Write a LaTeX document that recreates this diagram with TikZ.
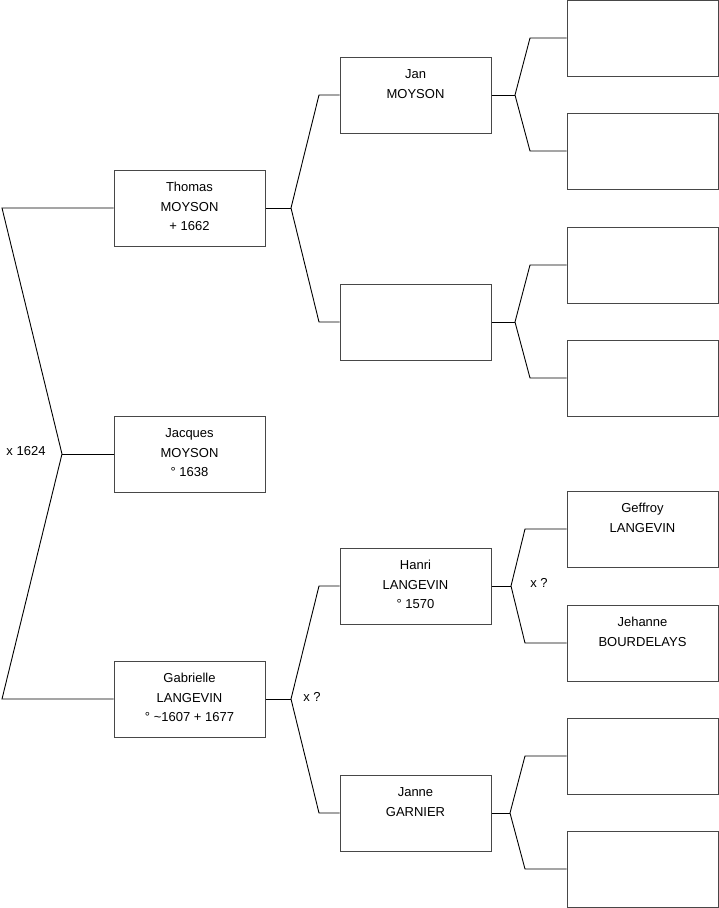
\documentclass[tikz,border=0pt]{standalone}
\usepackage{fontspec}
\setmainfont{Liberation Sans}
\newcommand{\pinfo}[1]{\begin{minipage}[c][76pt][t]{151pt}\centering\fontsize{13pt}{19.5pt}\selectfont\rule{0pt}{21.5pt}#1\end{minipage}}
\begin{document}
\begin{tikzpicture}[x=1pt,y=-1pt,
  pbox/.style={draw=black!72,line width=1pt,fill=white,inner sep=0pt,minimum width=151pt,minimum height=76pt},
  conn/.style={draw=black,line width=0.9pt},
  lbl/.style={font=\fontsize{13pt}{15pt}\selectfont,inner sep=0pt}]
\useasboundingbox (0,0) rectangle (719,908);
% column 1
\node[pbox] (thomas) at (189.5,208) {\pinfo{Thomas\\MOYSON\\+ 1662}};
\node[pbox] (jacques) at (189.5,454) {\pinfo{Jacques\\MOYSON\\° 1638}};
\node[pbox] (gabrielle) at (189.5,699) {\pinfo{Gabrielle\\LANGEVIN\\° \textasciitilde1607 + 1677}};
% column 2
\node[pbox] (jan) at (415.5,95) {\pinfo{Jan\\MOYSON}};
\node[pbox] (unk) at (415.5,322) {\pinfo{}};
\node[pbox] (hanri) at (415.5,586) {\pinfo{Hanri\\LANGEVIN\\° 1570}};
\node[pbox] (janne) at (415.5,813) {\pinfo{Janne\\GARNIER}};
% column 3
\node[pbox] (r1) at (642.5,38) {\pinfo{}};
\node[pbox] (r2) at (642.5,151) {\pinfo{}};
\node[pbox] (r3) at (642.5,265) {\pinfo{}};
\node[pbox] (r4) at (642.5,378) {\pinfo{}};
\node[pbox] (geffroy) at (642.5,529) {\pinfo{Geffroy\\LANGEVIN}};
\node[pbox] (jehanne) at (642.5,643) {\pinfo{Jehanne\\BOURDELAYS}};
\node[pbox] (r7) at (642.5,756) {\pinfo{}};
\node[pbox] (r8) at (642.5,869) {\pinfo{}};
% connector points
\coordinate (c0t) at (2,208);
\coordinate (c0v) at (62,454);
\coordinate (c0b) at (2,699);
\coordinate (tv) at (291,208); \coordinate (tt) at (319,95); \coordinate (tb) at (319,322);
\coordinate (gv) at (291,699); \coordinate (gt) at (319,586); \coordinate (gb) at (319,813);
\coordinate (jv) at (515,95); \coordinate (jt) at (530,38); \coordinate (jb) at (530,151);
\coordinate (uv) at (515,322); \coordinate (ut) at (530,265); \coordinate (ub) at (530,378);
\coordinate (hv) at (511,586); \coordinate (ht) at (525,529); \coordinate (hb) at (525,643);
\coordinate (nv) at (510,813); \coordinate (nt) at (525,756); \coordinate (nb) at (525,869);
% connectors
\draw[conn] (thomas.west) -- (c0t) -- (c0v) -- (c0b) -- (gabrielle.west);
\draw[conn] (c0v) -- (jacques.west);
\draw[conn] (thomas.east) -- (tv);
\draw[conn] (jan.west) -- (tt) -- (tv) -- (tb) -- (unk.west);
\draw[conn] (gabrielle.east) -- (gv);
\draw[conn] (hanri.west) -- (gt) -- (gv) -- (gb) -- (janne.west);
\draw[conn] (jan.east) -- (jv);
\draw[conn] (r1.west) -- (jt) -- (jv) -- (jb) -- (r2.west);
\draw[conn] (unk.east) -- (uv);
\draw[conn] (r3.west) -- (ut) -- (uv) -- (ub) -- (r4.west);
\draw[conn] (hanri.east) -- (hv);
\draw[conn] (geffroy.west) -- (ht) -- (hv) -- (hb) -- (jehanne.west);
\draw[conn] (janne.east) -- (nv);
\draw[conn] (r7.west) -- (nt) -- (nv) -- (nb) -- (r8.west);
% marriage labels
\node[lbl] (m0) at (26,451) {x 1624};
\node[lbl] (m1) at (312,697) {x ?};
\node[lbl] (m2) at (539,583) {x ?};
\end{tikzpicture}
\end{document}
